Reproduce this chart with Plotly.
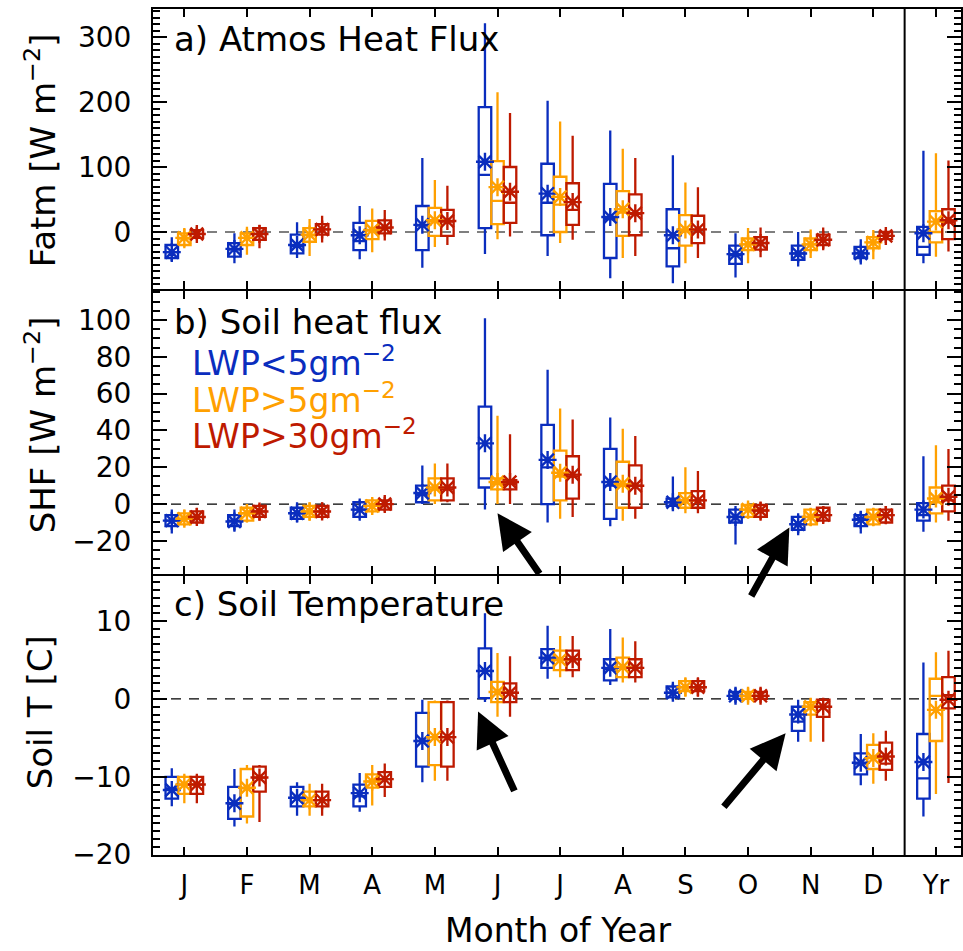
import plotly.graph_objects as go

months = ["J", "F", "M", "A", "M", "J", "J", "A", "S", "O", "N", "D", "Yr"]
series_names = ["LWP<5gm<sup>−2</sup>", "LWP>5gm<sup>−2</sup>", "LWP>30gm<sup>−2</sup>"]
colors = ["#0a2dbe", "#ffa000", "#be1a00"]

# ---- Panel a: Atmos heat flux (W m-2): lower whisker, q1, median, q3, upper whisker, mean
fatm_lo   = [[-46, -48, -40, -42, -55, -34, -37, -71, -79, -70, -53, -50, -48],
             [-25, -35, -37, -31, -23, -11, -17, -40, -48, -48, -40, -42, -38],
             [-12, -25, -16, -13, -20, -7, -12, -37, -40, -39, -28, -17, -30]]
fatm_q1   = [[-40, -38, -33, -28, -28, 6, -5, -40, -53, -49, -43, -40, -35],
             [-20, -20, -15, -11, -6, 12, 0, -6, -21, -28, -28, -25, -16],
             [-9, -12, -4, -2, -6, 14, 11, -5, -17, -27, -20, -11, -11]]
fatm_med  = [[-31, -27, -22, -14, 10, 88, 45, 20, -25, -36, -33, -32, -23],
             [-10, -9, -5, 2, 16, 48, 42, 30, 2, -19, -19, -16, 0],
             [-3, -3, 4, 6, 16, 45, 34, 28, 3, -17, -12, -6, 15]]
fatm_q3   = [[-20, -17, -4, 14, 40, 192, 105, 74, 35, -21, -21, -23, 8],
             [-2, -2, 6, 17, 37, 109, 85, 63, 26, -10, -10, -8, 32],
             [3, 6, 12, 18, 34, 100, 75, 58, 25, -8, -4, 0, 35]]
fatm_hi   = [[-8, -2, 15, 40, 114, 321, 202, 156, 118, -2, 0, -11, 125],
             [6, 8, 20, 36, 80, 215, 170, 128, 76, 6, 4, 3, 121],
             [8, 11, 25, 34, 71, 183, 148, 114, 69, 7, 7, 4, 110]]
fatm_mean = [[-31, -26, -20, -5, 11, 108, 59, 23, -5, -34, -33, -33, -2],
             [-9, -9, -4, 3, 18, 69, 54, 35, 4, -19, -19, -16, 16],
             [-3, -3, 4, 7, 17, 62, 46, 29, 4, -17, -12, -6, 18]]

# ---- Panel b: Soil heat flux (W m-2)
shf_lo   = [[-16, -15, -10, -9, 0, -3, -10, -12, -3, -22, -17, -16, -15],
            [-12, -10, -9, -5, 0, 0, -8, -9, -5, -8, -12, -12, -10],
            [-11, -9, -8, -4, 1, 0, -7, -8, -5, -9, -10, -11, -9]]
shf_q1   = [[-12, -12, -8, -7, 1, 9, 0, -8, -1, -10, -14, -12, -9],
            [-11, -9, -7, -4, 2, 8, 2, -2, -2, -7, -11, -11, -5],
            [-10, -7, -7, -3, 2, 8, 3, -2, -2, -7, -9, -10, -4]]
shf_med  = [[-9, -9, -5, -3, 5, 14, 20, 10, 1, -7, -11, -8, -6],
            [-8, -5, -4, -1, 8, 11, 15, 10, 2, -3, -7, -7, 1],
            [-7, -4, -4, 0, 8, 11, 15, 10, 2, -3.5, -6, -6, 2]]
shf_q3   = [[-6, -6, -2, 1, 10, 53, 43, 30, 3, -3, -7, -6, 0.5],
            [-5, -2, -1, 2, 14, 14, 29, 23, 6, -0.5, -3, -3, 9],
            [-4, -1, -1, 2, 14, 13, 26, 21, 7, -0.5, -2, -3, 10]]
shf_hi   = [[-3, -3, 1, 3, 21, 101, 73, 47, 15, -1, -5, -4, 26],
            [-3, 0, 1, 3, 22, 48, 52, 41, 20, 1, -2, -2, 32],
            [-2, 0, 1, 4, 22, 38, 46, 37, 18, 1, -1, -1, 30]]
shf_mean = [[-9, -9.5, -5, -3, 6, 33, 24, 12, 1, -7, -11, -8.5, -3],
            [-8, -5, -4, -1, 9, 12, 17, 11, 2, -3, -7, -7, 3],
            [-7, -4, -4, 0, 9, 12, 16, 10, 2, -3.5, -6, -6, 4]]

# ---- Panel c: Soil temperature (C)
st_lo   = [[-13.8, -16.4, -15, -14.5, -10.7, -0.4, 2.6, 1.8, -0.1, -0.5, -5.5, -11.1, -15.1],
           [-13.4, -16, -15, -13.7, -10.5, -2.3, 2.8, 2.1, 0.3, -0.5, -5.5, -10.9, -12.2],
           [-13.4, -15.8, -15, -12.6, -10.5, -2.3, 2.8, 2.1, 0.3, -0.5, -5.5, -10.5, -10.8]]
st_q1   = [[-12.8, -15.4, -13.8, -13.8, -8.7, 0.1, 4, 2.4, 0.2, 0, -4.1, -9.7, -12.8],
           [-12.2, -15.1, -13.8, -11.4, -8.5, -0.4, 3.7, 2.8, 1, 0, -2, -9, -5.4],
           [-12.2, -11.9, -13.8, -11.3, -8.7, -0.4, 3.7, 2.8, 1, 0, -2.3, -9.1, -1.2]]
st_med  = [[-11.5, -13.5, -12.7, -12.5, -5.4, 3.6, 5.2, 3.8, 0.8, 0.4, -2.9, -8.3, -10.2],
           [-11, -11.5, -13, -10.6, -4.9, 0.9, 5, 4.1, 1.5, 0.4, -1, -7.5, 0.4],
           [-11, -10.1, -13, -10.3, -4.9, 0.8, 5.1, 4, 1.5, 0.4, -1, -8.3, 0.5]]
st_q3   = [[-10, -11.3, -11.3, -11, -1.8, 6.5, 6.4, 5.1, 1.6, 0.9, -1, -7, -4.5],
           [-10, -9, -11.9, -9.7, -0.4, 2.2, 6.2, 5.3, 2.3, 0.9, -0.4, -5.9, 2.6],
           [-10, -8.7, -11.9, -9.4, -0.4, 2, 6.2, 5.1, 2.3, 0.9, -0.1, -5.6, 2.8]]
st_hi   = [[-8.9, -9, -10.7, -9.5, -0.1, 11, 9.4, 9, 2.2, 1.4, -0.1, -4.5, 4.7],
           [-9.6, -8.5, -10.9, -8.5, -0.2, 5.9, 8.1, 7.9, 2.8, 1.4, 0.1, -4.4, 6],
           [-9.6, -8.5, -10.9, -8.3, -0.2, 5.5, 8.1, 7.4, 2.8, 1.4, 0.1, -4.1, 6.2]]
st_mean = [[-11.7, -13.4, -12.7, -12.1, -5.4, 3.6, 5.3, 4, 0.8, 0.4, -2, -8.2, -8.1],
           [-11, -11.4, -13, -10.6, -4.9, 0.9, 5, 4.1, 1.5, 0.4, -1, -7.6, -1.4],
           [-11, -10.1, -13, -10.3, -4.9, 0.8, 5.1, 4, 1.5, 0.4, -1, -7.4, -0.1]]

panel_titles = ["a) Atmos Heat Flux", "b) Soil heat flux", "c) Soil Temperature"]
y_titles = ["Fatm [W m<sup>−2</sup>]", "SHF [W m<sup>−2</sup>]", "Soil T [C]"]
x_title = "Month of Year"

FONT = "DejaVu Sans"
offsets = [-0.2, 0.0, 0.2]
box_width = 0.2

panels = [
    (fatm_lo, fatm_q1, fatm_med, fatm_q3, fatm_hi, fatm_mean),
    (shf_lo, shf_q1, shf_med, shf_q3, shf_hi, shf_mean),
    (st_lo, st_q1, st_med, st_q3, st_hi, st_mean),
]

fig = go.Figure()
positions = list(range(1, len(months) + 1))

for p, (lo, q1, med, q3, hi, mean) in enumerate(panels):
    xa = "x" if p == 0 else f"x{p+1}"
    ya = "y" if p == 0 else f"y{p+1}"
    for s in range(3):
        xs = [m + offsets[s] for m in positions]
        fig.add_trace(go.Box(
            x=xs, q1=q1[s], median=med[s], q3=q3[s],
            lowerfence=lo[s], upperfence=hi[s],
            width=box_width, whiskerwidth=0,
            line=dict(color=colors[s], width=2.3),
            fillcolor="rgba(255,255,255,0)",
            boxpoints=False, showlegend=False,
            name=series_names[s], xaxis=xa, yaxis=ya,
        ))
        fig.add_trace(go.Scatter(
            x=xs, y=mean[s], mode="markers",
            marker=dict(symbol="asterisk-open", size=15, color=colors[s],
                        line=dict(color=colors[s], width=2.4)),
            showlegend=False, name=series_names[s], xaxis=xa, yaxis=ya,
        ))

# layout geometry (pixels)
W, H = 963, 951
L, R, T, B = 153, 0, 9, 96
ph = H - T - B
pw = W - L - R

def py(pix):
    return (H - B - pix) / ph

def px(pix):
    return (pix - L) / pw

# axis lines are drawn outside the domain; a 2px gap lets neighbouring frames coincide
doms = [[py(289), 1.0], [py(574), py(291)], [0.0, py(576)]]
yranges = [[-87.7, 343.1], [-38.0, 115.8], [-20.05, 15.8]]
ydticks = [100, 20, 10]
yminor = [10, 5, 1]

axis_common = dict(showline=True, linecolor="black", linewidth=2, mirror="allticks",
                   ticks="inside", tickcolor="black", tickwidth=2,
                   showgrid=False, zeroline=False)

lay = dict(width=W, height=H, autosize=False,
           margin=dict(l=L, r=R, t=T, b=B),
           paper_bgcolor="white", plot_bgcolor="white",
           font=dict(family=FONT, color="black", size=28),
           showlegend=False)

for p in range(3):
    xk = "xaxis" if p == 0 else f"xaxis{p+1}"
    yk = "yaxis" if p == 0 else f"yaxis{p+1}"
    yid = "y" if p == 0 else f"y{p+1}"
    xid = "x" if p == 0 else f"x{p+1}"
    lay[xk] = dict(axis_common, anchor=yid, domain=[0, 1], range=[0.5, 13.4],
                   tickmode="array", tickvals=positions, ticktext=months,
                   ticklen=8, showticklabels=(p == 2),
                   tickfont=dict(size=26, family=FONT),
                   ticklabelstandoff=6)
    if p > 0:
        lay[xk]["matches"] = "x"
    lay[yk] = dict(axis_common, anchor=xid, domain=doms[p], range=yranges[p],
                   tickmode="linear", dtick=ydticks[p], tick0=0, ticklen=14,
                   ticksuffix="\u2002",
                   tickfont=dict(size=28, family=FONT),
                   minor=dict(tickmode="linear", tick0=0, dtick=yminor[p],
                              ticklen=7, tickwidth=2, ticks="inside",
                              tickcolor="black", showgrid=False))
    # overlaid tick-only axis carrying the minor ticks
    mk = f"yaxis{p+4}"
    lay[mk] = dict(axis_common, anchor=xid, overlaying=yid, range=yranges[p],
                   tickmode="linear", dtick=yminor[p], tick0=0, ticklen=7,
                   showticklabels=False, side="left")

fig.update_layout(**lay)

shapes = []
for p in range(3):
    xid = "x" if p == 0 else f"x{p+1}"
    yid = "y" if p == 0 else f"y{p+1}"
    shapes.append(dict(type="line", xref=f"{xid} domain", yref=yid,
                       x0=0, x1=1, y0=0, y1=0,
                       line=dict(color="black", width=1.2, dash="10px,8px"),
                       layer="below"))
# separator between months and the annual column
shapes.append(dict(type="line", xref="x", yref="paper", x0=12.5, x1=12.5, y0=0, y1=1,
                   line=dict(color="black", width=2)))
fig.update_layout(shapes=shapes)

ann = []
title_y = [39, 322, 604]
for p in range(3):
    ann.append(dict(text=panel_titles[p], xref="paper", yref="paper",
                    x=px(172), y=py(title_y[p]), xanchor="left", yanchor="middle",
                    showarrow=False, font=dict(size=34, family=FONT)))
ytitle_y = [150, 425, 712]
for p in range(3):
    ann.append(dict(text=y_titles[p], xref="paper", yref="paper",
                    x=px(40), y=py(ytitle_y[p]), xanchor="center", yanchor="middle",
                    textangle=-90, showarrow=False, font=dict(size=34, family=FONT)))
ann.append(dict(text=x_title, xref="paper", yref="paper", x=px(560), y=py(930),
                xanchor="center", yanchor="middle", showarrow=False,
                font=dict(size=33, family=FONT)))
leg_y = [361, 398, 435]
for s in range(3):
    ann.append(dict(text=series_names[s], xref="paper", yref="paper",
                    x=px(190), y=py(leg_y[s]), xanchor="left", yanchor="middle",
                    showarrow=False, font=dict(size=33, family=FONT, color=colors[s])))

# arrows pointing to June and November
arrows = [("x2", "y2", 6.0, -5.0, 43, 62),
          ("x2", "y2", 10.66, -12.7, -39, 70),
          ("x3", "y3", 5.69, -1.6, 37, 81),
          ("x3", "y3", 10.6, -4.4, -63, 75)]
for xr, yr, xv, yv, axp, ayp in arrows:
    ann.append(dict(text="", xref=xr, yref=yr, x=xv, y=yv, ax=axp, ay=ayp,
                    showarrow=True, arrowhead=2, arrowsize=1.0, arrowwidth=7,
                    arrowcolor="black", standoff=0))
fig.update_layout(annotations=ann)

fig.write_html("out.html")
